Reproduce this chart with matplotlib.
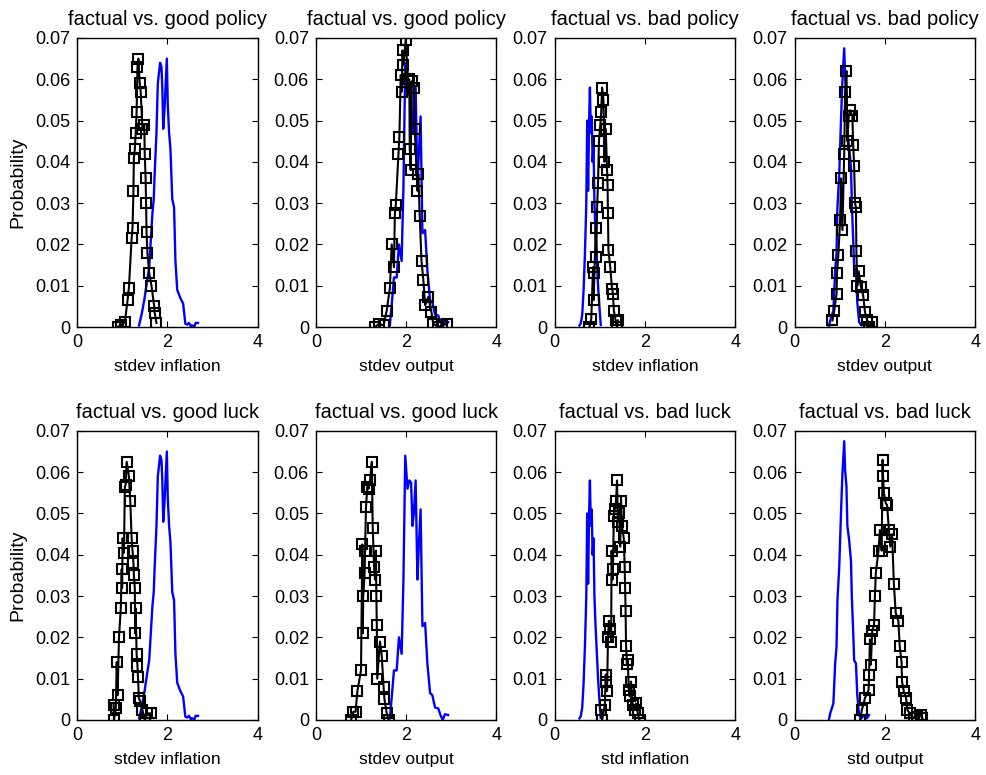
import numpy as np
import matplotlib
matplotlib.use("Agg")
import matplotlib.pyplot as plt

plt.rcParams['font.family'] = ['Liberation Sans', 'DejaVu Sans']

# factual distributions (blue), shared by the policy and luck rows
fact_infl_good_x = [1.375, 1.43, 1.49, 1.55, 1.60, 1.64, 1.67, 1.70, 1.72, 1.76, 1.79, 1.82, 1.84, 1.87, 1.89, 1.91, 1.94, 1.99, 2.01, 2.04, 2.07, 2.11, 2.15, 2.18, 2.22, 2.29, 2.35, 2.40, 2.44, 2.48, 2.52, 2.55, 2.60, 2.63, 2.68]
fact_infl_good_y = [0.0004, 0.003, 0.0065, 0.011, 0.0145, 0.022, 0.0275, 0.031, 0.037, 0.047, 0.059, 0.062, 0.064, 0.063, 0.058, 0.048, 0.053, 0.065, 0.054, 0.047, 0.043, 0.031, 0.029, 0.016, 0.009, 0.007, 0.0057, 0.0008, 0.0006, 0.001, 0.0002, 0.0004, 0.0002, 0.001, 0.001]

fact_out_good_x = [1.64, 1.70, 1.73, 1.79, 1.84, 1.90, 1.94, 1.98, 2.03, 2.07, 2.11, 2.14, 2.17, 2.21, 2.25, 2.28, 2.32, 2.36, 2.42, 2.47, 2.53, 2.58, 2.64, 2.71, 2.76, 2.81, 2.86, 2.93]
fact_out_good_y = [0.0004, 0.008, 0.012, 0.012, 0.020, 0.016, 0.034, 0.064, 0.056, 0.058, 0.0575, 0.047, 0.050, 0.058, 0.034, 0.042, 0.051, 0.0227, 0.0235, 0.0137, 0.0065, 0.006, 0.003, 0.0028, 0.0012, 0.0, 0.0014, 0.0012]

fact_infl_bad_x = [0.55, 0.58, 0.61, 0.64, 0.67, 0.70, 0.72, 0.74, 0.76, 0.78, 0.80, 0.82, 0.84, 0.86, 0.88, 0.90, 0.93, 0.96, 0.99, 1.02]
fact_infl_bad_y = [0.0004, 0.001, 0.003, 0.009, 0.018, 0.030, 0.050, 0.033, 0.049, 0.058, 0.047, 0.051, 0.040, 0.044, 0.030, 0.024, 0.017, 0.010, 0.005, 0.0005]

fact_out_bad_x = [0.76, 0.79, 0.86, 0.90, 0.93, 0.95, 0.99, 1.03, 1.06, 1.10, 1.12, 1.15, 1.17, 1.21, 1.25, 1.27, 1.30, 1.32, 1.36, 1.39, 1.43, 1.48, 1.54, 1.60, 1.65]
fact_out_bad_y = [0.0, 0.0016, 0.004, 0.0137, 0.0178, 0.029, 0.037, 0.0505, 0.0595, 0.0675, 0.0605, 0.0565, 0.047, 0.0435, 0.0385, 0.0295, 0.021, 0.0145, 0.0137, 0.006, 0.0012, 0.0004, 0.0012, 0.0004, 0.0012]

# counterfactual distributions (black squares)
gp_infl_x = [0.90, 0.98, 1.06, 1.12, 1.15, 1.21, 1.23, 1.25, 1.26, 1.28, 1.30, 1.32, 1.34, 1.36, 1.39, 1.41, 1.45, 1.49, 1.50, 1.52, 1.53, 1.54, 1.56, 1.60, 1.65, 1.71, 1.72, 1.76]
gp_infl_y = [0.0, 0.0005, 0.0012, 0.0065, 0.0095, 0.0215, 0.024, 0.033, 0.041, 0.043, 0.047, 0.052, 0.063, 0.065, 0.059, 0.057, 0.048, 0.049, 0.042, 0.036, 0.030, 0.023, 0.018, 0.013, 0.010, 0.005, 0.0035, 0.001]

gp_out_x = [1.31, 1.40, 1.50, 1.57, 1.64, 1.68, 1.73, 1.75, 1.77, 1.83, 1.85, 1.88, 1.90, 1.92, 1.94, 1.99, 2.04, 2.07, 2.08, 2.10, 2.12, 2.17, 2.19, 2.25, 2.27, 2.30, 2.34, 2.38, 2.42, 2.49, 2.56, 2.60, 2.71, 2.80, 2.90]
gp_out_y = [0.0, 0.0008, 0.0004, 0.004, 0.0095, 0.020, 0.0145, 0.0275, 0.0295, 0.042, 0.046, 0.061, 0.057, 0.067, 0.0635, 0.0695, 0.060, 0.060, 0.043, 0.038, 0.0595, 0.058, 0.048, 0.033, 0.037, 0.027, 0.016, 0.0115, 0.0053, 0.0073, 0.0036, 0.0008, 0.0, 0.0004, 0.0008]

bp_infl_x = [0.77, 0.81, 0.85, 0.86, 0.88, 0.91, 0.92, 0.94, 0.96, 0.98, 1.01, 1.03, 1.05, 1.08, 1.10, 1.13, 1.16, 1.17, 1.18, 1.19, 1.23, 1.27, 1.29, 1.31, 1.35, 1.38, 1.40]
bp_infl_y = [0.0, 0.002, 0.0145, 0.0065, 0.013, 0.024, 0.017, 0.029, 0.035, 0.045, 0.049, 0.052, 0.058, 0.055, 0.040, 0.048, 0.038, 0.0345, 0.0275, 0.0186, 0.0145, 0.0093, 0.0081, 0.004, 0.0016, 0.0, 0.0016]

bp_out_x = [0.84, 0.88, 0.93, 0.94, 0.97, 1.01, 1.03, 1.06, 1.10, 1.12, 1.15, 1.17, 1.20, 1.23, 1.28, 1.30, 1.32, 1.34, 1.36, 1.37, 1.39, 1.42, 1.47, 1.52, 1.56, 1.61, 1.65, 1.71]
bp_out_y = [0.0016, 0.004, 0.008, 0.013, 0.0175, 0.026, 0.036, 0.0235, 0.042, 0.057, 0.062, 0.045, 0.051, 0.0525, 0.051, 0.044, 0.039, 0.030, 0.029, 0.0183, 0.010, 0.0135, 0.0097, 0.0077, 0.0036, 0.0016, 0.0, 0.0012]

gl_infl_x = [0.81, 0.82, 0.86, 0.88, 0.90, 0.93, 0.97, 0.99, 1.00, 1.01, 1.04, 1.06, 1.08, 1.10, 1.15, 1.18, 1.21, 1.23, 1.25, 1.26, 1.28, 1.29, 1.30, 1.32, 1.34, 1.35, 1.37, 1.40, 1.45, 1.50, 1.56, 1.65]
gl_infl_y = [0.0036, 0.0, 0.003, 0.014, 0.006, 0.020, 0.027, 0.0365, 0.032, 0.044, 0.0405, 0.0565, 0.057, 0.0625, 0.059, 0.053, 0.044, 0.041, 0.038, 0.035, 0.032, 0.021, 0.027, 0.016, 0.013, 0.0105, 0.0053, 0.0045, 0.0024, 0.0, 0.0016, 0.0016]

gl_out_x = [0.78, 0.83, 0.88, 0.92, 1.00, 1.03, 1.04, 1.05, 1.08, 1.09, 1.11, 1.14, 1.17, 1.20, 1.24, 1.26, 1.29, 1.31, 1.33, 1.34, 1.35, 1.36, 1.42, 1.46, 1.50, 1.52, 1.57, 1.61]
gl_out_y = [0.0, 0.002, 0.002, 0.007, 0.012, 0.0425, 0.021, 0.030, 0.0355, 0.041, 0.0515, 0.0565, 0.056, 0.058, 0.0625, 0.0465, 0.037, 0.034, 0.041, 0.030, 0.023, 0.010, 0.019, 0.0155, 0.008, 0.005, 0.0016, 0.0]

bl_infl_x = [1.03, 1.05, 1.11, 1.13, 1.14, 1.16, 1.18, 1.20, 1.22, 1.25, 1.26, 1.28, 1.29, 1.31, 1.33, 1.36, 1.38, 1.40, 1.43, 1.45, 1.47, 1.49, 1.53, 1.55, 1.56, 1.57, 1.58, 1.60, 1.62, 1.64, 1.66, 1.69, 1.73, 1.77, 1.80, 1.84, 1.88]
bl_infl_y = [0.0024, 0.0, 0.0036, 0.011, 0.0093, 0.007, 0.020, 0.024, 0.022, 0.019, 0.041, 0.034, 0.0365, 0.0495, 0.051, 0.053, 0.058, 0.048, 0.050, 0.042, 0.053, 0.047, 0.044, 0.037, 0.032, 0.0265, 0.018, 0.0135, 0.0145, 0.0073, 0.0057, 0.0093, 0.0036, 0.0024, 0.004, 0.0016, 0.0]

bl_out_x = [1.45, 1.49, 1.56, 1.64, 1.65, 1.67, 1.69, 1.72, 1.76, 1.78, 1.80, 1.86, 1.89, 1.93, 1.95, 1.96, 1.98, 2.02, 2.05, 2.09, 2.12, 2.16, 2.20, 2.24, 2.30, 2.33, 2.37, 2.38, 2.42, 2.47, 2.50, 2.55, 2.64, 2.72, 2.79, 2.83]
bl_out_y = [0.0, 0.0024, 0.0053, 0.0073, 0.011, 0.0195, 0.0134, 0.0215, 0.023, 0.030, 0.0356, 0.041, 0.046, 0.041, 0.063, 0.059, 0.055, 0.0525, 0.052, 0.046, 0.042, 0.045, 0.033, 0.026, 0.024, 0.0178, 0.014, 0.0093, 0.0069, 0.0053, 0.0024, 0.0016, 0.0004, 0.0008, 0.0012, 0.0004]

titles = ['factual vs. good policy', 'factual vs. good policy', 'factual vs. bad policy', 'factual vs. bad policy',
          'factual vs. good luck', 'factual vs. good luck', 'factual vs. bad luck', 'factual vs. bad luck']
xlabels = ['stdev inflation', 'stdev output', 'stdev inflation', 'stdev output',
           'stdev inflation', 'stdev output', 'std inflation', 'std output']

blue = [(fact_infl_good_x, fact_infl_good_y), (fact_out_good_x, fact_out_good_y),
        (fact_infl_bad_x, fact_infl_bad_y), (fact_out_bad_x, fact_out_bad_y)] * 2
black = [(gp_infl_x, gp_infl_y), (gp_out_x, gp_out_y), (bp_infl_x, bp_infl_y), (bp_out_x, bp_out_y),
         (gl_infl_x, gl_infl_y), (gl_out_x, gl_out_y), (bl_infl_x, bl_infl_y), (bl_out_x, bl_out_y)]

fig = plt.figure(figsize=(9.87, 7.75), dpi=100)
lefts = [0.078, 0.320, 0.562, 0.805]
bottoms = [0.578, 0.071]

for i in range(8):
    ax = fig.add_axes([lefts[i % 4], bottoms[i // 4], 0.183, 0.373])
    bx, by = blue[i]
    kx, ky = black[i]
    ax.plot(bx, by, color='#0000ff', lw=1.7)
    ax.plot(kx, ky, color='black', lw=1.5, marker='s', markersize=7.5,
            markerfacecolor='none', markeredgewidth=1.5)
    ax.set_xlim(0, 4)
    ax.set_ylim(0, 0.07)
    ax.set_xticks([0, 2, 4])
    ax.set_yticks(np.arange(0, 0.071, 0.01))
    ax.set_yticklabels(['0', '0.01', '0.02', '0.03', '0.04', '0.05', '0.06', '0.07'])
    ax.tick_params(direction='in', top=True, right=True, length=4, labelsize=13, pad=5)
    for s in ax.spines.values():
        s.set_linewidth(1.0)
    ax.set_title(titles[i], fontsize=14.5, pad=9)
    ax.set_xlabel(xlabels[i], fontsize=12.5, labelpad=6)
    if i % 4 == 0:
        ax.set_ylabel('Probability', fontsize=14, labelpad=6)

fig.savefig('out.png', dpi=100)
